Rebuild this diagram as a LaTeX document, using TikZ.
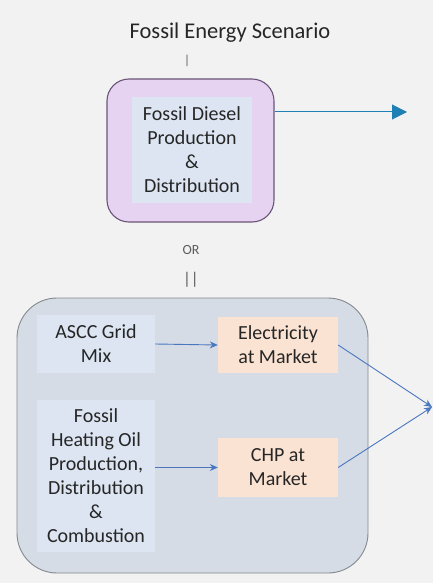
\documentclass[tikz,border=0pt]{standalone}
\usepackage{fontspec}
\setmainfont{Carlito}
\usetikzlibrary{arrows.meta,calc}

\definecolor{pagebg}{HTML}{F2F2F2}
\definecolor{lavender}{HTML}{E6D3F1}
\definecolor{lavedge}{HTML}{6A5577}
\definecolor{paleblue}{HTML}{DCE5F1}
\definecolor{greyblue}{HTML}{D5DCE6}
\definecolor{greyedge}{HTML}{85898E}
\definecolor{peach}{HTML}{FBE3D3}
\definecolor{teal}{HTML}{1E80B4}
\definecolor{flowblue}{HTML}{4A76C0}
\definecolor{ink}{HTML}{262626}

\tikzset{
  txt/.style={font=\fontsize{20}{24}\selectfont, text=ink, align=center, inner sep=0pt},
  outerpurple/.style={draw=lavedge, line width=1.1pt, fill=lavender, rounded corners=22pt, minimum width=167pt, minimum height=143pt, inner sep=0pt},
  outergrey/.style={draw=greyedge, line width=0.9pt, fill=greyblue, rounded corners=40pt, minimum width=351pt, minimum height=275pt, inner sep=0pt},
  bluebox/.style={txt, fill=paleblue, minimum width=118pt},
  peachbox/.style={txt, fill=peach, minimum width=120pt},
  flow/.style={draw=flowblue, line width=0.9pt, -{Stealth[length=8pt,width=7pt]}},
  bigflow/.style={draw=teal, line width=1pt, -{Triangle[length=15pt,width=15pt]}},
  sep/.style={text=ink!75, inner sep=0pt}
}

\begin{document}
\begin{tikzpicture}[x=1pt,y=-1pt]
  % page
  \fill[pagebg] (0,0) rectangle (433,583);
  \useasboundingbox (0,0) rectangle (433,583);

  % heading
  \node[txt, font=\fontsize{22.5}{26}\selectfont] (title) at (230,33) {Fossil Energy Scenario};
  \node[sep, font=\fontsize{13}{15}\selectfont] (tick) at (187,61) {|};

  % diesel pathway
  \node[outerpurple] (diesel) at (190.5,150.5) {};
  \node[bluebox, minimum width=120pt, minimum height=106pt] (dieselin) at (192,150) {Fossil Diesel\\Production\\\&\\Distribution};
  \coordinate (dieselout) at (407,112);
  \draw[bigflow] (diesel.east |- dieselout) -- (dieselout);

  % alternative
  \node[sep, font=\fontsize{14}{16}\selectfont] (or) at (191,250) {OR};
  \node[sep, font=\fontsize{17}{19}\selectfont] (bars) at (191,280) {||};

  % grid / heating oil pathway
  \node[outergrey] (grid) at (192.5,435.5) {};
  \node[bluebox, minimum height=58pt] (ascc) at (96,344) {ASCC Grid\\Mix};
  \node[bluebox, minimum height=152pt] (oil) at (96,476) {Fossil\\Heating Oil\\Production,\\Distribution\\\&\\Combustion};
  \node[peachbox, minimum height=56pt] (elec) at (278,345) {Electricity\\at Market};
  \node[peachbox, minimum height=59pt] (chp) at (278,467.5) {CHP at\\Market};
  \coordinate (merge) at (432,407);

  \draw[flow] (ascc.east) -- (elec.west);
  \draw[flow] (oil.east |- chp.west) -- (chp.west);
  \draw[flow] (elec.east) -- (merge);
  \draw[flow] (chp.east) -- (merge);
\end{tikzpicture}
\end{document}
